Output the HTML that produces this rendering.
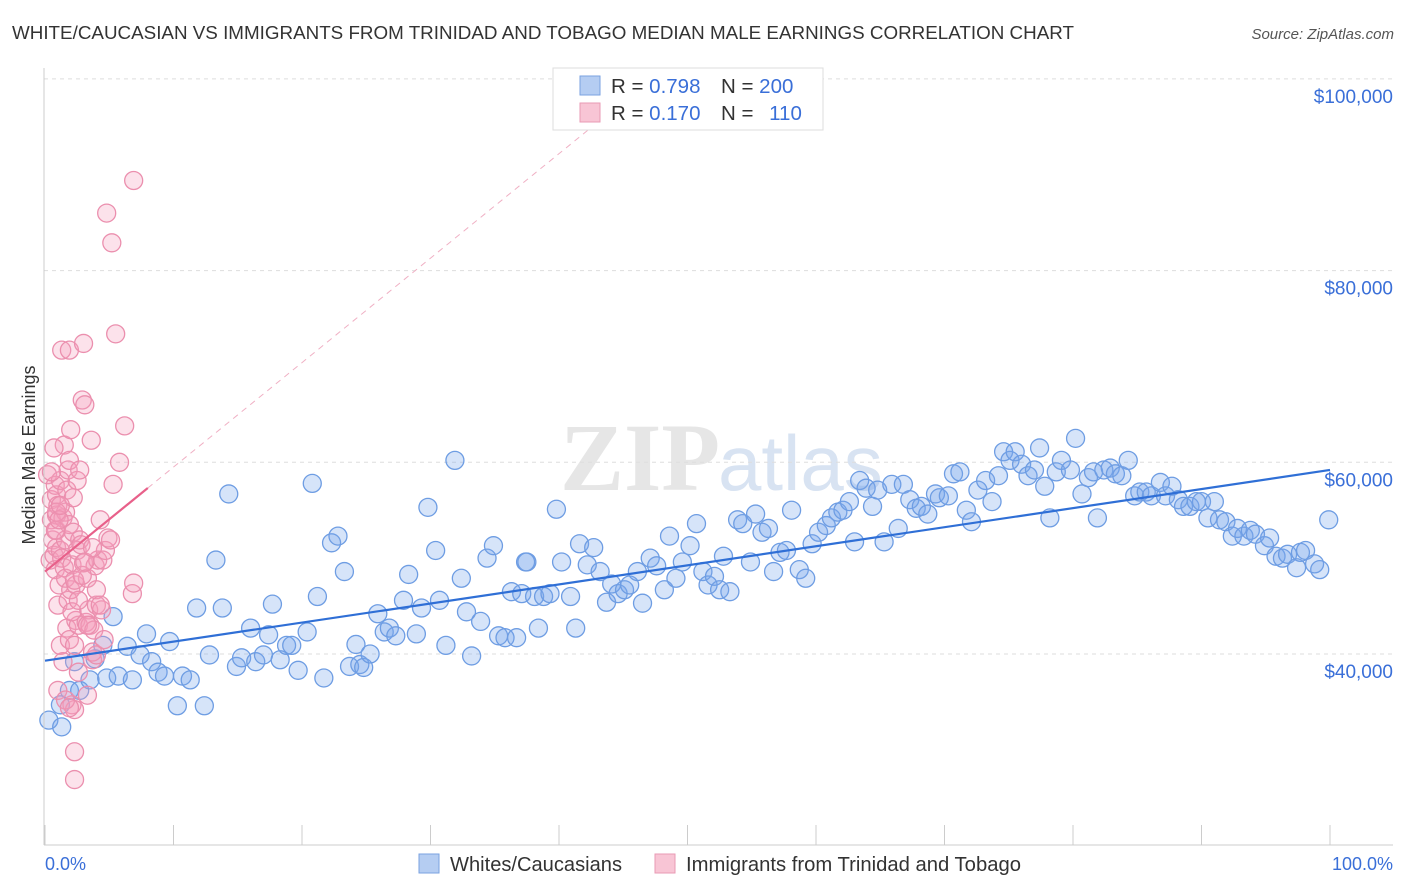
<!DOCTYPE html>
<html><head><meta charset="utf-8"><style>
body{margin:0;background:#fff;font-family:"Liberation Sans",sans-serif;}
#wrap{position:relative;width:1406px;height:892px;overflow:hidden;}
</style></head><body>
<div id="wrap">
<svg id="svg" width="1406" height="892" xmlns="http://www.w3.org/2000/svg">
<text x="12" y="39" font-size="18.5" fill="#333" textLength="1062" lengthAdjust="spacingAndGlyphs">WHITE/CAUCASIAN VS IMMIGRANTS FROM TRINIDAD AND TOBAGO MEDIAN MALE EARNINGS CORRELATION CHART</text>
<text x="1394" y="39" font-size="15" fill="#555" font-style="italic" text-anchor="end">Source: ZipAtlas.com</text>
<text x="720" y="490" font-size="96" fill="#e6e6e6" text-anchor="end" font-family="Liberation Serif,serif" font-weight="bold">ZIP</text>
<text x="718" y="490" font-size="78" fill="#d8e3f2">atlas</text>
<text transform="translate(35,455) rotate(-90)" font-size="18" fill="#333" text-anchor="middle">Median Male Earnings</text>
<g id="grid"></g><g id="ticks"></g><g id="pts"></g><g id="trend"></g>
<line x1="44" y1="68" x2="44" y2="845" stroke="#ccc"/>
<line x1="44" y1="845" x2="1393" y2="845" stroke="#ccc"/>
<text x="45" y="870" font-size="18" fill="#3a6fd8">0.0%</text>
<text x="1393" y="870" font-size="18" fill="#3a6fd8" text-anchor="end">100.0%</text>
<g>
<rect x="553" y="68" width="270" height="62" fill="#fff" stroke="#ddd"/>
<rect x="580" y="76" width="20" height="19" fill="#b5cdf2" stroke="#7aa2e0"/>
<rect x="580" y="103" width="20" height="19" fill="#f8c5d5" stroke="#e99ab4"/>
<text x="611" y="93" font-size="20.5" fill="#333">R = <tspan fill="#3a6fd8">0.798</tspan></text>
<text x="721" y="93" font-size="20.5" fill="#333">N = <tspan fill="#3a6fd8">200</tspan></text>
<text x="611" y="120" font-size="20.5" fill="#333">R = <tspan fill="#3a6fd8">0.170</tspan></text>
<text x="721" y="120" font-size="20.5" fill="#333">N = <tspan fill="#3a6fd8" dx="10">110</tspan></text>
</g>
<g>
<rect x="419" y="854" width="20" height="19" fill="#b5cdf2" stroke="#7aa2e0"/>
<text x="450" y="871" font-size="20" fill="#333" textLength="172" lengthAdjust="spacingAndGlyphs">Whites/Caucasians</text>
<rect x="655" y="854" width="20" height="19" fill="#f8c5d5" stroke="#e99ab4"/>
<text x="686" y="871" font-size="20" fill="#333" textLength="335" lengthAdjust="spacingAndGlyphs">Immigrants from Trinidad and Tobago</text>
</g>
</svg>
</div>
<script>
const yTicks=[40000,60000,80000,100000];
const yTickLabels=["$40,000","$60,000","$80,000","$100,000"];
const xTicks=[0,10,20,30,40,50,60,70,80,90,100];
const blueX=[0.3,1.2,1.3,1.9,2.3,2.7,3.5,3.9,4.5,4.8,5.3,5.7,6.4,6.8,7.4,7.9,8.3,8.8,9.3,9.7,10.3,10.7,11.3,11.8,12.4,12.8,13.3,13.8,14.3,14.9,15.3,16.0,16.4,17.0,17.4,17.7,18.3,18.8,19.2,19.7,20.4,20.8,21.2,21.7,22.3,22.8,23.3,23.7,24.2,24.5,24.8,25.3,25.9,26.4,26.8,27.3,27.9,28.3,28.9,29.3,29.8,30.4,30.7,31.2,31.9,32.4,32.8,33.2,33.9,34.4,34.9,35.3,35.8,36.3,36.7,37.1,37.5,38.1,38.4,38.8,39.3,39.8,40.2,40.9,41.3,41.6,42.2,42.7,43.2,43.7,44.1,44.6,45.1,45.5,46.1,46.5,47.1,47.6,48.2,48.6,49.1,49.6,50.2,50.7,51.2,51.6,52.1,52.5,52.8,53.3,53.9,54.3,54.9,55.3,55.8,56.3,56.7,57.2,57.7,58.1,58.7,59.2,59.7,60.2,60.8,61.2,61.7,62.1,62.6,63.0,63.4,63.9,64.4,64.8,65.3,65.9,66.4,66.8,67.3,67.8,68.2,68.7,69.3,69.6,70.3,70.7,71.2,71.7,72.1,72.6,73.2,73.7,74.2,74.6,75.1,75.5,76.0,76.5,77.0,77.4,77.8,78.2,78.7,79.1,79.8,80.2,80.7,81.2,81.6,81.9,82.4,82.9,83.3,83.8,84.3,84.8,85.2,85.7,86.1,86.8,87.2,87.7,88.2,88.6,89.1,89.6,90.0,90.5,91.0,91.4,91.9,92.4,92.8,93.3,93.8,94.2,94.9,95.3,95.8,96.3,96.7,97.4,97.7,98.1,98.8,99.2,99.9,37.4];
const blueY=[33.1,34.7,32.4,36.2,39.2,36.2,37.3,39.5,40.9,37.5,43.9,37.7,40.8,37.3,39.9,42.1,39.2,38.1,37.7,41.3,34.6,37.7,37.3,44.8,34.6,39.9,49.8,44.8,56.7,38.7,39.6,42.7,39.2,39.9,42.0,45.2,39.4,40.9,40.9,38.3,42.3,57.8,46.0,37.5,51.6,52.3,48.6,38.7,41.0,38.9,38.6,40.0,44.2,42.3,42.7,41.9,45.6,48.3,42.1,44.8,55.3,50.8,45.6,40.9,60.2,47.9,44.4,39.8,43.4,50.0,51.3,41.9,41.7,46.5,41.7,46.3,49.6,46.0,42.7,46.0,46.3,55.1,49.6,46.0,42.7,51.5,49.3,51.1,48.6,45.4,47.3,46.3,46.7,47.2,48.6,45.3,50.0,49.2,46.7,52.3,47.9,49.6,51.3,53.6,48.6,47.2,48.1,46.7,50.2,46.5,54.0,53.6,49.6,54.6,52.7,53.1,48.6,50.6,50.8,55.0,48.8,47.9,51.5,52.7,53.4,54.2,54.8,55.0,55.9,51.7,58.1,57.3,55.4,57.1,51.7,57.7,53.1,57.7,56.1,55.2,55.4,54.6,56.7,56.3,56.5,58.8,59.0,55.0,53.8,57.1,58.1,55.9,58.6,61.1,60.2,61.1,59.8,58.6,59.2,61.5,57.5,54.2,59.0,60.2,59.2,62.5,56.7,58.4,59.0,54.2,59.2,59.4,58.8,58.6,60.2,56.5,56.9,56.9,56.5,57.9,56.5,57.5,56.1,55.4,55.4,55.9,55.9,54.2,55.9,54.0,53.8,52.3,53.1,52.3,52.9,52.5,51.3,52.1,50.2,50.0,50.4,49.0,50.6,50.8,49.4,48.8,54.0,49.6];
const pinkX=[0.2,0.4,0.5,0.5,0.6,0.7,0.8,0.8,0.9,0.9,0.9,0.9,1.0,1.0,1.1,1.2,1.2,1.2,1.3,1.3,1.4,1.5,1.5,1.6,1.6,1.6,1.7,1.7,1.8,1.8,1.9,1.9,1.9,1.9,2.0,2.0,2.1,2.1,2.2,2.2,2.3,2.3,2.3,2.3,2.4,2.4,2.5,2.5,2.6,2.6,2.7,2.7,2.8,2.9,3.0,3.0,3.1,3.2,3.3,3.3,3.4,3.5,3.6,3.7,3.7,3.8,3.9,4.0,4.0,4.1,4.3,4.4,4.5,4.6,4.7,4.8,4.9,5.1,5.2,5.3,5.5,5.8,6.2,6.8,6.9,6.9,0.5,0.7,1.0,1.4,1.6,1.9,2.1,2.3,2.6,2.9,3.1,3.3,3.7,4.0,4.3,0.8,0.9,1.1,1.2];
const pinkY=[58.7,49.8,56.1,54.0,51.9,50.3,57.6,48.8,52.9,54.5,51.1,56.6,55.5,45.1,47.2,40.9,58.1,50.8,71.7,50.0,54.2,49.0,61.8,51.9,47.9,54.8,57.1,42.7,59.2,45.6,71.7,41.5,60.2,53.5,46.7,63.4,49.3,34.7,56.3,52.7,40.9,34.2,29.8,26.9,47.2,43.5,58.1,50.8,43.0,38.1,59.2,51.9,51.4,66.5,49.5,72.4,66.0,43.3,35.7,47.9,44.6,43.0,62.3,39.4,40.2,42.5,49.2,39.9,45.1,49.8,54.0,44.6,49.8,41.5,50.8,86.0,52.1,51.9,82.9,57.7,73.4,60.0,63.8,46.3,47.4,89.4,59.0,61.5,36.2,39.2,35.2,34.4,44.4,47.7,45.6,48.2,49.6,43.0,51.1,46.7,45.1,52.9,54.8,54.0,55.5];
const blueTrend=[39.3,59.2];
const pinkTrend=[48.6,1.09];
const pinkSolidEnd=8, pinkDashEnd=43.5;

const NS="http://www.w3.org/2000/svg";
const xS=p=>45+p*12.85;
const yS=k=>654-(k-40)*9.585;
function mk(tag,attrs,parent){const e=document.createElementNS(NS,tag);for(const k in attrs)e.setAttribute(k,attrs[k]);document.getElementById(parent).appendChild(e);return e;}
yTicks.forEach((v,i)=>{
  const y=yS(v/1000);
  const l=mk('line',{x1:44,x2:1393,y1:y,y2:y,stroke:'#ddd','stroke-dasharray':'4,4'},'grid');
  
  
  const t=mk('text',{x:1393,y:y+24,'font-size':19,fill:'#3a6fd8','text-anchor':'end'},'grid');
  t.textContent=yTickLabels[i];
  
  
});
xTicks.forEach(p=>{
  const l=mk('line',{x1:xS(p),x2:xS(p),y1:825,y2:845,stroke:'#ccc'},'ticks');
  
  
});
blueX.forEach((x,i)=>{
  const c=mk('circle',{cx:xS(x),cy:yS(blueY[i]),r:9,fill:'rgba(120,165,235,0.3)',stroke:'#6e9de3','stroke-width':1.3},'pts');
  
  
});
pinkX.forEach((x,i)=>{
  const c=mk('circle',{cx:xS(x),cy:yS(pinkY[i]),r:9,fill:'rgba(245,160,190,0.3)',stroke:'#eb8fae','stroke-width':1.3},'pts');
  
  
});
const bt=mk('line',{x1:xS(0),y1:yS(blueTrend[0]),x2:xS(100),y2:yS(blueTrend[1]),stroke:'#2f6fd6','stroke-width':2.2},'trend');


const pd=mk('line',{x1:xS(pinkSolidEnd),y1:yS(pinkTrend[0]+pinkTrend[1]*pinkSolidEnd),x2:xS(pinkDashEnd),y2:yS(pinkTrend[0]+pinkTrend[1]*pinkDashEnd),stroke:'#f0b0c4','stroke-width':1,'stroke-dasharray':'6,5'},'trend');


const ps=mk('line',{x1:xS(0),y1:yS(pinkTrend[0]),x2:xS(pinkSolidEnd),y2:yS(pinkTrend[0]+pinkTrend[1]*pinkSolidEnd),stroke:'#e8608a','stroke-width':2.2},'trend');


</script>
</body></html>
